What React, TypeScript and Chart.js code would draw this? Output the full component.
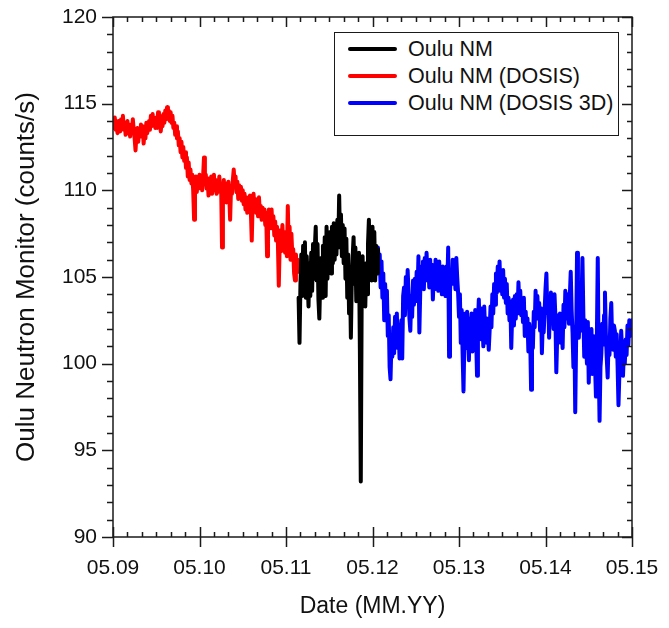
import { useEffect, useRef } from 'react';
import { Chart, registerables } from 'chart.js';

Chart.register(...registerables);

// x axis: months since May 2009
const xTickLabels = ['05.09', '05.10', '05.11', '05.12', '05.13', '05.14', '05.15'];
const yMin = 90;
const yMax = 120;
const seriesNames = ['Oulu NM', 'Oulu NM (DOSIS)', 'Oulu NM (DOSIS 3D)'];
const seriesColors = ['#000000', '#ff0000', '#0000ff'];
const stepMonths = 0.125;
const redStart = 0;
const blackStart = 25.75;
const blueStart = 36.75;

const redValues = [
  114.1, 113.6, 114.2, 113.5, 113.9, 113.3, 114.0, 113.7,
  113.4, 114.1, 113.6, 114.3, 113.5, 113.9, 113.2, 113.8,
  114.0, 113.3, 113.8, 113.1, 113.7, 113.4, 114.1, 113.5,
  113.0, 112.3, 113.2, 113.6, 112.8, 113.5, 113.1, 113.8,
  113.2, 113.7, 112.7, 113.4, 113.0, 113.9, 113.3, 113.6,
  114.0, 113.5, 114.3, 113.7, 114.4, 113.8, 114.1, 113.6,
  114.2, 113.6, 114.5, 113.9, 114.3, 113.4, 114.0, 113.7,
  114.4, 113.9, 114.6, 114.1, 114.8, 114.3, 114.6, 114.0,
  114.5, 113.9, 114.3, 113.6, 113.9, 113.2, 113.7, 113.0,
  113.4, 112.6, 113.0, 112.2, 112.8, 111.9, 112.5, 111.7,
  112.2, 111.3, 111.9, 110.8, 111.6, 110.6, 111.2, 110.4,
  110.9, 110.0, 108.3, 110.4, 110.8, 109.9, 110.6, 110.1,
  110.9, 110.2, 110.7, 110.0, 110.8, 111.9, 110.4, 110.9,
  110.1, 110.7, 109.7, 110.5, 110.0, 110.8, 109.8, 110.4,
  110.9, 110.0, 110.6, 109.8, 110.5, 110.1, 110.8, 109.9,
  110.3, 106.7, 109.9, 110.6, 109.6, 110.4, 109.3, 110.1,
  110.5, 109.7, 108.3, 110.2, 109.8, 110.6, 111.2, 110.3,
  110.8, 109.9, 110.5, 109.5, 110.3, 109.7, 110.2, 109.4,
  110.0, 109.2, 109.8, 108.9, 109.6, 108.7, 109.4, 109.0,
  109.7, 108.8, 107.1, 109.3, 109.8, 108.9, 109.5, 108.7,
  109.3, 108.5, 109.6, 108.7, 109.1, 108.3, 109.0, 108.6,
  108.9, 108.0, 108.7, 106.2, 108.3, 108.9, 107.8, 108.6,
  108.9, 107.8, 108.5, 107.4, 108.2, 107.1, 107.9, 107.0,
  104.5, 106.9, 107.7, 106.5, 108.0, 106.8, 107.6, 106.4,
  107.3, 106.2, 109.1, 106.8, 107.9, 106.0, 107.5, 106.3,
  106.6, 105.2, 104.8, 106.3, 105.5, 106.0, 105.3,
];

const blackValues = [
  103.8, 101.2,
  104.5, 106.3, 103.9, 106.8, 104.6, 107.0, 103.8, 106.2,
  104.8, 103.3, 105.8, 103.9, 106.4, 104.2, 106.9, 104.9,
  106.7, 107.9, 104.8, 106.9, 103.7, 102.6, 104.9, 106.1,
  103.8, 106.8, 104.4, 107.3, 103.9, 107.9, 104.9, 107.1,
  105.6, 107.6, 105.2, 107.9, 105.8, 108.1, 106.0, 107.8,
  106.3, 108.3, 106.7, 109.7, 106.9, 108.6, 106.2, 108.0,
  105.8, 107.8, 104.9, 107.2, 103.8, 106.3, 102.9, 105.2,
  101.5, 104.8, 106.2, 107.3, 104.6, 106.7, 103.6, 106.0,
  104.2, 106.4, 100.8, 93.2, 103.9, 106.2, 103.4, 105.6,
  103.3, 105.8, 104.0, 106.9, 108.3, 105.4, 107.4, 104.8,
  107.9, 105.4, 107.6, 104.8, 106.8, 105.2, 106.6,
];

const blueValues = [
  106.7, 105.8,
  106.3, 104.4, 105.9, 103.8, 105.2, 102.5, 104.6, 103.1,
  104.2, 101.6, 102.8, 99.8, 99.1, 101.2, 100.4, 102.1,
  100.6, 102.7, 101.1, 102.9, 100.9, 102.2, 100.3, 101.8,
  102.5, 100.3, 103.9, 104.4, 102.8, 105.0, 103.6, 105.4,
  104.1, 102.6, 101.9, 103.9, 102.7, 104.8, 103.4, 104.9,
  103.6, 105.3, 104.1, 106.2, 101.8, 104.2, 105.6, 104.5,
  105.9, 104.3, 106.1, 104.8, 106.4, 105.1, 105.8, 104.4,
  106.0, 104.6, 105.7, 103.7, 105.2, 104.3, 106.0, 104.9,
  105.8, 104.2, 105.9, 104.7, 105.5, 104.0, 105.6, 104.6,
  105.3, 103.9, 105.6, 104.5, 106.7, 100.4, 104.1, 105.4,
  104.6, 106.0, 104.9, 105.8, 104.3, 106.1, 105.0, 104.1,
  102.7, 104.0, 101.2, 103.1, 100.6, 98.4, 101.5, 102.9,
  100.9, 103.0, 101.8, 100.2, 102.6, 101.0, 102.9, 100.7,
  102.3, 100.8, 103.1, 101.6, 99.3, 102.4, 103.7, 101.9,
  103.2, 101.4, 102.8, 101.0, 103.3, 101.9, 102.6, 101.2,
  102.4, 100.8, 101.9, 103.3, 102.1, 104.0, 102.9, 104.6,
  103.4, 105.2, 104.1, 105.6, 104.5, 105.9, 104.2, 105.3,
  104.0, 105.4, 103.8, 104.9, 103.5, 104.6, 102.9, 103.8,
  102.5, 103.6, 100.9, 102.8, 103.7, 102.2, 103.9, 102.6,
  104.0, 102.9, 104.7, 103.3, 104.2, 102.8, 103.7, 102.4,
  103.8, 101.6, 103.0, 102.0, 102.6, 100.7, 102.3, 101.5,
  98.5, 101.8, 100.9, 103.0, 102.1, 104.2, 102.8, 103.9,
  102.6, 103.5, 101.9, 103.2, 100.6, 102.4, 101.8, 103.0,
  104.3, 105.2, 102.9, 103.8, 101.5, 103.4, 104.1, 102.6,
  103.5, 102.0, 104.0, 102.7, 99.5, 101.6, 102.8, 101.9,
  102.9, 101.2, 102.4, 100.9, 103.4, 102.1, 104.2, 103.0,
  102.6, 104.0, 102.3, 103.9, 105.3, 103.1, 101.8, 99.8,
  102.1, 97.2, 101.4, 106.4, 102.3, 101.5, 103.1, 101.9,
  103.6, 106.1, 102.9, 100.4, 102.5, 101.3, 100.0, 102.4,
  98.9, 101.3, 100.2, 102.0, 99.4, 101.6, 100.7, 99.9,
  98.1, 101.5, 106.1, 100.2, 96.7, 99.8, 100.6, 102.3,
  101.1, 102.8, 104.1, 101.7, 100.3, 99.2, 101.4, 100.5,
  102.6, 103.5, 101.3, 100.8, 102.2, 101.9, 100.4, 101.7,
  99.9, 97.6, 99.4, 100.2, 101.9, 100.8, 99.3, 100.6,
  100.0, 101.4, 100.5, 102.2, 101.1, 102.5, 101.6, 102.0,
  102.5,
];

const toPoints = (start: number, values: number[]) =>
  values.map((v, i) => ({ x: start + i * stepMonths, y: v }));

const FONT = "'Liberation Sans', Arial, sans-serif";

const frameTicks = {
  id: 'frameTicks',
  afterDraw(chart: any) {
    const { ctx, chartArea: a, scales } = chart;
    const x = scales.x;
    const y = scales.y;
    ctx.save();
    ctx.strokeStyle = '#1a1a1a';
    ctx.lineWidth = 1.5;
    ctx.strokeRect(a.left, a.top, a.right - a.left, a.bottom - a.top);
    ctx.beginPath();
    for (let m = 0; m <= 72; m += 2) {
      const px = Math.round(x.getPixelForValue(m)) + 0.5;
      const major = m % 12 === 0;
      if (major) {
        ctx.moveTo(px, a.bottom - 10);
        ctx.lineTo(px, a.bottom + 10);
        ctx.moveTo(px, a.top);
        ctx.lineTo(px, a.top + 10);
      } else {
        ctx.moveTo(px, a.bottom);
        ctx.lineTo(px, a.bottom - 5);
        ctx.moveTo(px, a.top);
        ctx.lineTo(px, a.top + 5);
      }
    }
    for (let v = yMin; v <= yMax; v += 1) {
      const py = Math.round(y.getPixelForValue(v)) + 0.5;
      const major = v % 5 === 0;
      ctx.moveTo(a.left, py);
      ctx.lineTo(a.left - (major ? 11 : 6), py);
      ctx.moveTo(a.right, py);
      ctx.lineTo(a.right - (major ? 10 : 5), py);
    }
    ctx.stroke();
    ctx.restore();
  },
};

export default function App() {
  const canvasRef = useRef<HTMLCanvasElement | null>(null);

  useEffect(() => {
    const canvas = canvasRef.current;
    if (!canvas) return;
    const chart = new Chart(canvas, {
      type: 'line',
      data: {
        datasets: [
          { label: seriesNames[0], data: toPoints(blackStart, blackValues), borderColor: seriesColors[0], backgroundColor: seriesColors[0] },
          { label: seriesNames[1], data: toPoints(redStart, redValues), borderColor: seriesColors[1], backgroundColor: seriesColors[1] },
          { label: seriesNames[2], data: toPoints(blueStart, blueValues), borderColor: seriesColors[2], backgroundColor: seriesColors[2] },
        ],
      },
      options: {
        responsive: false,
        animation: false,
        devicePixelRatio: 1,
        layout: { padding: { top: 17, right: 37, left: 0, bottom: 0 } },
        elements: {
          point: { radius: 0 },
          line: { borderWidth: 4, tension: 0, borderJoinStyle: 'round', borderCapStyle: 'round' },
        },
        plugins: {
          legend: { display: false },
          tooltip: { enabled: false },
        },
        scales: {
          x: {
            type: 'linear',
            min: 0,
            max: 72,
            grid: { display: false, drawTicks: false },
            border: { display: false },
            afterFit: (s: any) => {
              s.height = 91;
              s.paddingLeft = 0;
              s.paddingRight = 0;
            },
            afterBuildTicks: (s: any) => {
              s.ticks = xTickLabels.map((_, i) => ({ value: i * 12 }));
            },
            ticks: {
              padding: 19,
              maxRotation: 0,
              autoSkip: false,
              color: '#111',
              font: { family: FONT, size: 21 },
              callback: (v: any) => xTickLabels[Math.round(Number(v) / 12)] ?? '',
            },
            title: {
              display: true,
              text: 'Date (MM.YY)',
              color: '#111',
              font: { family: FONT, size: 23 },
              padding: { top: 0, bottom: 8 },
            },
          },
          y: {
            type: 'linear',
            min: yMin,
            max: yMax,
            grid: { display: false, drawTicks: false },
            border: { display: false },
            afterFit: (s: any) => {
              s.width = 113;
              s.paddingTop = 0;
              s.paddingBottom = 0;
            },
            ticks: {
              stepSize: 5,
              padding: 16,
              color: '#111',
              font: { family: FONT, size: 21 },
            },
            title: {
              display: true,
              text: 'Oulu Neutron Monitor (counts/s)',
              color: '#111',
              font: { family: FONT, size: 26 },
              padding: { top: 11, bottom: 0 },
            },
          },
        },
      },
      plugins: [frameTicks],
    });
    return () => chart.destroy();
  }, []);

  return (
    <div style={{ position: 'absolute', left: 0, top: 0, width: 669, height: 628, background: '#fff' }}>
      <canvas ref={canvasRef} width={669} height={628} style={{ position: 'absolute', left: 0, top: 0, width: 669, height: 628 }} />
      <div
        style={{
          position: 'absolute',
          left: 334,
          top: 32,
          width: 285,
          height: 104,
          boxSizing: 'border-box',
          border: '1.5px solid #1a1a1a',
          background: '#fff',
          fontFamily: FONT,
          fontSize: 21.5,
          color: '#111',
        }}
      >
        {seriesNames.map((name, i) => (
          <div
            key={name}
            style={{ position: 'absolute', left: 0, top: 3 + i * 27, height: 26, display: 'flex', alignItems: 'center', whiteSpace: 'nowrap' }}
          >
            <span style={{ display: 'inline-block', marginLeft: 13, width: 49, height: 4, borderRadius: 2, background: seriesColors[i] }} />
            <span style={{ marginLeft: 11 }}>{name}</span>
          </div>
        ))}
      </div>
    </div>
  );
}
